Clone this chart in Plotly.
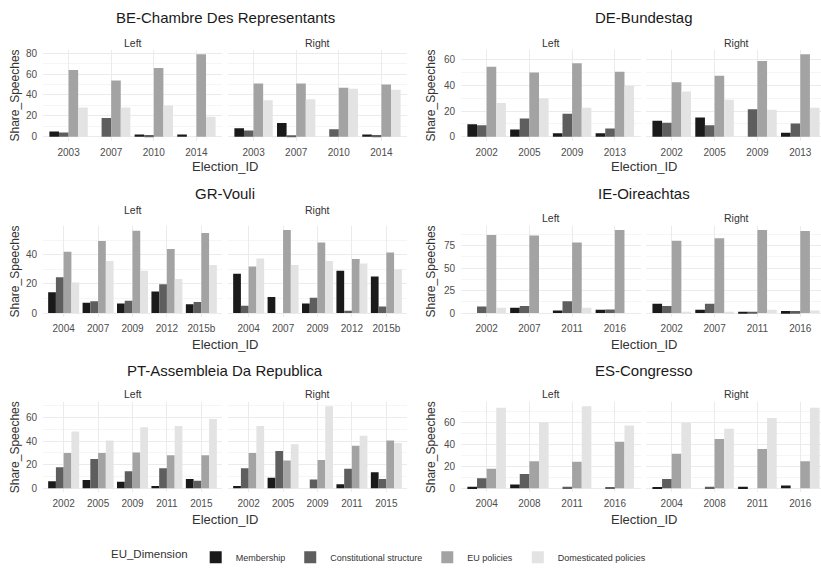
import plotly.graph_objects as go

# EU dimension categories and their grey fills
DIMENSIONS = ["Membership", "Constitutional structure", "EU policies", "Domesticated policies"]
FILLS = ["#1a1a1a", "#5e5e5e", "#a3a3a3", "#e3e3e3"]
SIDES = ["Left", "Right"]

# Share of speeches per election; rows follow DIMENSIONS order
BE_YEARS = ["2003", "2007", "2010", "2014"]
BE_LEFT = [[5, 0, 2, 2], [4, 18, 1.5, 0], [64, 54, 66, 79], [28, 28, 30, 19]]
BE_RIGHT = [[8, 13, 0, 2], [6, 1, 7, 1.5], [51, 51, 47, 50], [35, 36, 46, 45]]

DE_YEARS = ["2002", "2005", "2009", "2013"]
DE_LEFT = [[9.8, 5.7, 2.6, 2.6], [9, 14.2, 18, 6.4], [54.6, 50.2, 57.4, 50.7], [26.3, 30.1, 22.7, 39.6]]
DE_RIGHT = [[12.4, 14.9, 0, 3.1], [10.8, 9, 21.4, 10.3], [42.5, 47.6, 59.2, 64.4], [35.3, 28.8, 21.1, 22.7]]

GR_YEARS = ["2004", "2007", "2009", "2012", "2015b"]
GR_LEFT = [[14.3, 7, 6.5, 14.8, 6], [24.5, 8, 8.4, 19.8, 7.5], [42, 49.5, 56.5, 44, 55], [21, 35.7, 29, 23.4, 33]]
GR_RIGHT = [[27, 11, 6.5, 29, 25], [5, 0, 10.5, 1.5, 4.5], [32, 57, 48.4, 37, 41.6], [37.5, 33, 35.7, 34, 30]]

IE_YEARS = ["2002", "2007", "2011", "2016"]
IE_LEFT = [[0, 5.8, 2.9, 3.7], [7.3, 7.7, 13.2, 4], [87, 86.4, 78.7, 92.6], [5.8, 0, 5.8, 0]]
IE_RIGHT = [[10.2, 3.7, 1.5, 2.2], [7.7, 10.2, 1, 2.2], [80.5, 83.5, 92.6, 91.5], [1.5, 0.5, 3.7, 2.9]]

PT_YEARS = ["2002", "2005", "2009", "2011", "2015"]
PT_LEFT = [[6, 7, 5.5, 2, 8], [17.9, 24.9, 14.5, 17, 6.5], [29.9, 29.9, 30.4, 28, 28], [48, 40.5, 51.7, 52.8, 58.7]]
PT_RIGHT = [[2, 9, 0, 3.5, 13.7], [17, 31.6, 7.5, 16.5, 8], [30, 23.5, 24, 36, 40.5], [52.8, 37.4, 69.5, 44.4, 38.3]]

ES_YEARS = ["2004", "2008", "2011", "2016"]
ES_LEFT = [[1.5, 3.5, 0, 0], [9.2, 13, 1.5, 1], [18, 24.8, 24.3, 42.6], [73.6, 60.3, 75, 57.4]]
ES_RIGHT = [[1, 0, 1.5, 2.5], [8.5, 1.5, 0, 0], [31.6, 45, 36, 24.8], [60, 54.4, 64.2, 73.6]]

PANELS = [
    ("BE-Chambre Des Representants", BE_YEARS, BE_LEFT, BE_RIGHT, 20),
    ("DE-Bundestag", DE_YEARS, DE_LEFT, DE_RIGHT, 20),
    ("GR-Vouli", GR_YEARS, GR_LEFT, GR_RIGHT, 20),
    ("IE-Oireachtas", IE_YEARS, IE_LEFT, IE_RIGHT, 25),
    ("PT-Assembleia Da Republica", PT_YEARS, PT_LEFT, PT_RIGHT, 20),
    ("ES-Congresso", ES_YEARS, ES_LEFT, ES_RIGHT, 20),
]

W, H = 821, 572
FONT = "Liberation Sans, Arial, sans-serif"

# pixel geometry of the facet grid
COL_X = [((43, 222), (228, 407)), ((461, 640.5), (646, 826))]
ROW_Y = [(49, 141), (227.4, 320.2), (406.5, 498.3)]
TITLE_Y = [15.5, 195, 374]
STRIP_Y = [41.5, 41.5, 211, 219, 398, 398]
XTITLE_Y = [167, 347.5, 525.5]
YTITLE_X = [15, 431]


def px(x):
    return x / W


def py(y):
    return 1 - y / H


fig = go.Figure()
layout = dict(annotations=[])

for c, (title, years, left, right, dtick) in enumerate(PANELS):
    row, col = divmod(c, 2)
    y0, y1 = ROW_Y[row]
    vmax = max(max(v) for v in left + right)
    yrange = [-0.05 * vmax, 1.05 * vmax]
    n = len(years)

    for s, values in enumerate([left, right]):
        k = 2 * c + s + 1
        xa = "x" if k == 1 else f"x{k}"
        ya = "y" if k == 1 else f"y{k}"
        for d, dim in enumerate(DIMENSIONS):
            fig.add_trace(go.Bar(
                x=years, y=values[d], name=dim, legendgroup=dim,
                showlegend=(k == 1), marker=dict(color=FILLS[d], line=dict(width=0)),
                xaxis=xa, yaxis=ya, hoverinfo="x+y+name",
            ))

        xs, xe = COL_X[col][s]
        lo, hi = -0.6, n - 0.4
        if xe > W:
            hi = lo + (n + 0.2) * (W - xs) / (xe - xs)
            xe = W
        key = "" if k == 1 else str(k)
        layout["xaxis" + key] = dict(
            domain=[px(xs), px(xe)], anchor=ya, type="category", range=[lo, hi],
            showgrid=True, gridcolor="#ebebeb", gridwidth=1, zeroline=False,
            showline=False, ticks="", ticklabelstandoff=4,
            tickfont=dict(family=FONT, size=10, color="#4d4d4d"),
        )
        layout["yaxis" + key] = dict(
            domain=[py(y1), py(y0)], anchor=xa, range=yrange, dtick=dtick, tick0=0,
            showgrid=True, gridcolor="#ebebeb", gridwidth=1, zeroline=False,
            showline=False, ticks="", showticklabels=(s == 0), ticklabelstandoff=5,
            tickfont=dict(family=FONT, size=10, color="#4d4d4d"),
            minor=dict(dtick=dtick / 2, tick0=0, showgrid=True, gridcolor="#f5f5f5", gridwidth=1),
        )
        # facet strip label
        layout["annotations"].append(dict(
            text=SIDES[s], x=px((COL_X[col][s][0] + COL_X[col][s][1]) / 2), y=py(STRIP_Y[c]),
            xref="paper", yref="paper", showarrow=False, xanchor="center", yanchor="middle",
            font=dict(family=FONT, size=10.5, color="#333333"),
        ))

    cx = (COL_X[col][0][0] + COL_X[col][1][1]) / 2
    layout["annotations"] += [
        dict(text=title, x=px(cx), y=py(TITLE_Y[row]), xref="paper", yref="paper",
             showarrow=False, xanchor="center", yanchor="middle",
             font=dict(family=FONT, size=15, color="#1a1a1a")),
        dict(text="Election_ID", x=px(cx), y=py(XTITLE_Y[row]), xref="paper", yref="paper",
             showarrow=False, xanchor="center", yanchor="middle",
             font=dict(family=FONT, size=13, color="#333333")),
        dict(text="Share_Speeches", x=px(YTITLE_X[col]), y=py((y0 + y1) / 2), xref="paper",
             yref="paper", showarrow=False, textangle=-90, xanchor="center", yanchor="middle",
             font=dict(family=FONT, size=12, color="#333333")),
    ]

fig.update_layout(
    **layout,
    width=W, height=H, margin=dict(l=0, r=0, t=0, b=0),
    paper_bgcolor="white", plot_bgcolor="white",
    barmode="group", bargap=0.1, bargroupgap=0,
    font=dict(family=FONT),
    legend=dict(
        orientation="h", x=px(380), xanchor="center", y=py(564), yanchor="middle",
        title=dict(text="EU_Dimension", side="left", font=dict(family=FONT, size=11.5, color="#333333")),
        font=dict(family=FONT, size=9, color="#333333"),
        itemwidth=30, tracegroupgap=0, bgcolor="rgba(0,0,0,0)",
    ),
)

fig.write_html("out.html")
